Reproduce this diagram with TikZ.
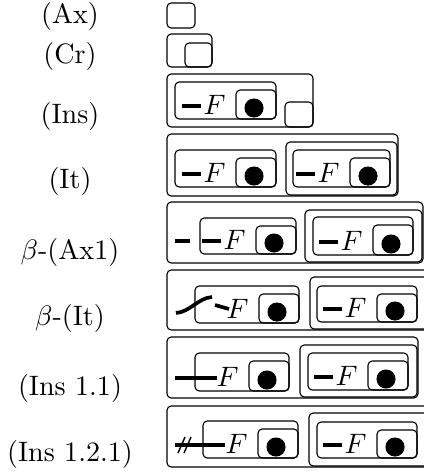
\documentclass[tikz,border=0pt]{standalone}
\usepackage{amsmath,amssymb}
\usepackage{xcolor}
\usepackage{tikz}

% one cell: outer box, dot box in its lower right corner, the dot, and F
\newcommand{\fcell}[5]{%
  \draw[bub] (#2,#3) rectangle (#4,#5);
  \draw[bub] (#4-40,#3+8) rectangle (#4,#5);
  \fill (#4-22,#5-11) circle (3.4pt);
  \node[ftxt] (#1) at (#4-73,#5-5) {$F$};
}

\begin{document}
\begin{tikzpicture}[x=0.356pt, y=-0.356pt,
    bub/.style={rounded corners=1.5pt, line width=0.4pt},
    wire/.style={line width=1.3pt},
    lab/.style={anchor=base},
    ftxt/.style={anchor=base west, inner sep=0pt}]
    \useasboundingbox (0,0) rectangle (424,475);
    \clip (0,0) rectangle (424,475);
    % (Ax)
    \node[lab] (ax) at (70,24) {(Ax)};
    \draw[bub] (167,3) rectangle (195,28);
    % (Cr)
    \node[lab] (cr) at (70,63) {(Cr)};
    \draw[bub] (167,34) rectangle (212,67);
    \draw[bub] (185,43) rectangle (212,67);
    % (Ins)
    \node[lab] (ins) at (70,123) {(Ins)};
    \draw[bub] (167,74) rectangle (313,127);
    \fcell{insF}{175}{82}{276}{119}
    \draw[bub] (285,102) rectangle (313,127);
    % (It)
    \node[lab] (it) at (70,188) {(It)};
    \draw[bub] (167,134) rectangle (398,196);
    \fcell{itFa}{175}{150}{276}{187}
    \draw[bub] (286,142) rectangle (397,195);
    \fcell{itFb}{293}{150}{390}{187}
    % beta-(Ax1)
    \node[lab] (bax) at (70,259) {$\beta$-(Ax1)};
    \draw[bub] (167,202) rectangle (423,263);
    \draw[wire] (175,241) -- (190,241);
    \fcell{baxFa}{200}{218}{296}{254}
    \draw[bub] (305,210) rectangle (422,262);
    \fcell{baxFb}{313}{217}{413}{255}
    % beta-(It)
    \node[lab] (bit) at (70,325) {$\beta$-(It)};
    \draw[bub] (167,270) rectangle (430,330);
    \draw[wire] (176,313) .. controls (190,312) and (198,298) .. (212,297);
    \draw[wire] (215,305) -- (229,309);
    \fcell{bitFa}{195}{286}{299}{323}
    \draw[bub] (310,277) rectangle (428,329);
    \fcell{bitFb}{317}{286}{417}{322}
    % (Ins 1.1)
    \node[lab] (insa) at (70,395) {(Ins 1.1)};
    \draw[bub] (167,337) rectangle (418,398);
    \draw[wire] (175,378) -- (217,378);
    \fcell{insaFa}{195}{353}{289}{391}
    \draw[bub] (300,345) rectangle (417,397);
    \fcell{insaFb}{308}{353}{408}{390}
    % (Ins 1.2.1)
    \node[lab] (insb) at (70,461) {(Ins 1.2.1)};
    \draw[bub] (167,406) rectangle (430,467);
    \draw[wire] (175,445) -- (225,445);
    \draw[line width=0.5pt] (178,453) -- (185,437) (184,453) -- (191,437);
    \fcell{insbFa}{203}{421}{298}{458}
    \draw[bub] (309,413) rectangle (428,466);
    \fcell{insbFb}{317}{422}{417}{458}
    % the minus in front of each F
    \foreach \r/\b in {276/119, 276/187, 390/187, 296/254, 413/255, 417/322, 408/390, 417/458}
        \draw[wire] (\r-94,\b-13) -- (\r-75,\b-13);
\end{tikzpicture}
\end{document}
